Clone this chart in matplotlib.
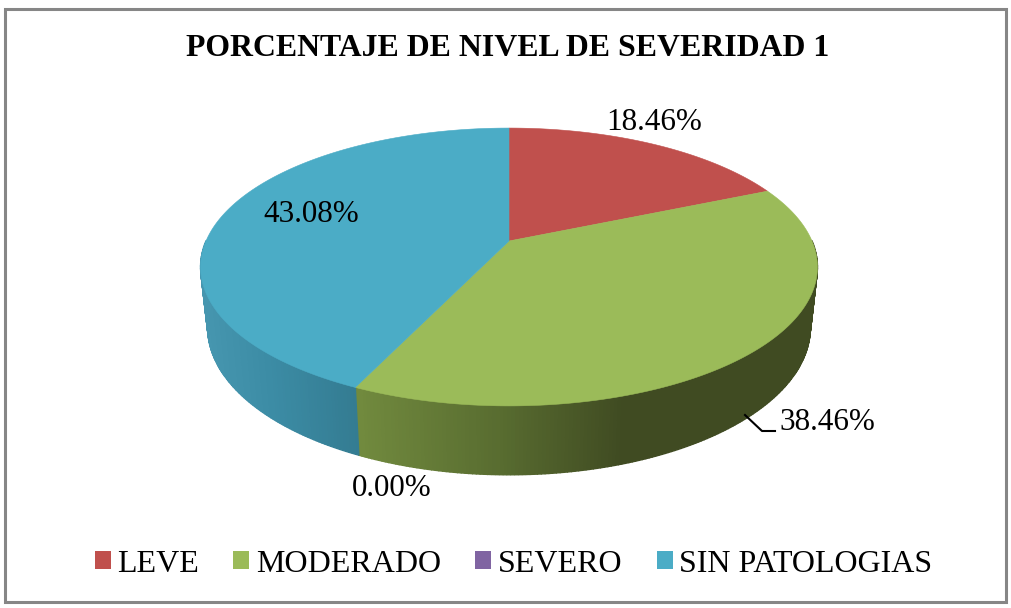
import numpy as np
import matplotlib
matplotlib.use('Agg')
import matplotlib.pyplot as plt
from matplotlib.patches import Patch, Rectangle

categorias = ['LEVE', 'MODERADO', 'SEVERO', 'SIN PATOLOGIAS']
porcentajes = [18.46, 38.46, 0.00, 43.08]
etiquetas = ['18.46%', '38.46%', '0.00%', '43.08%']
colores = ['#C0504D', '#9BBB59', '#8064A2', '#4BACC6']
titulo = 'PORCENTAJE DE NIVEL DE SEVERIDAD 1'

# sombreado del borde lateral, segun la posicion en x
sombra_x = {
    'MODERADO': [360, 500, 620],
    'SIN PATOLOGIAS': [205, 270, 355],
}
sombra_rgb = {
    'MODERADO': [(113, 138, 62), (88, 108, 48), (64, 75, 34)],
    'SIN PATOLOGIAS': [(70, 150, 175), (60, 140, 165), (52, 124, 146)],
}

plt.rcParams['font.family'] = ['Liberation Serif', 'DejaVu Serif']

fig = plt.figure(figsize=(10.12, 6.08), dpi=100)
ax = fig.add_axes([0, 0, 1, 1])
ax.set_xlim(0, 1012)
ax.set_ylim(608, 0)
ax.axis('off')


# perspectiva: circulo unitario -> pantalla
def proyectar(ang, k, y0, a, c=0.187):
    u, v = np.sin(ang), np.cos(ang)
    d = 1 + c * v
    return 509 + k * u / d, (y0 + a * v) / d


def anillo_sup(ang):
    return proyectar(ang, 303, 241, -89)


def anillo_inf(ang):
    return proyectar(ang, 296, 300, -86)


ax.add_patch(Rectangle((5.5, 8.5), 1001, 593.5, fc='white', ec='#868686', lw=2.2))

bordes = np.cumsum([0] + porcentajes) / 100 * 2 * np.pi

# paredes laterales, solo la mitad delantera se ve
for i, cat in enumerate(categorias):
    if porcentajes[i] == 0:
        continue
    ang = np.linspace(bordes[i], bordes[i + 1], int(porcentajes[i] * 6) + 2)
    for a0, a1 in zip(ang[:-1], ang[1:]):
        if np.cos(a0) > 0 and np.cos(a1) > 0:
            continue
        x0, y0 = anillo_sup(a0)
        x1, y1 = anillo_sup(a1)
        x2, y2 = anillo_inf(a1)
        x3, y3 = anillo_inf(a0)
        if cat in sombra_x:
            xm = (x0 + x1 + x2 + x3) / 4
            rgb = [np.interp(xm, sombra_x[cat], [c[j] for c in sombra_rgb[cat]]) / 255 for j in range(3)]
        else:
            rgb = colores[i]
        ax.fill([x0, x1, x2, x3], [y0, y1, y2, y3], color=rgb, lw=1.0, zorder=2)

# cara superior
for i in range(len(categorias)):
    if porcentajes[i] == 0:
        continue
    ang = np.linspace(bordes[i], bordes[i + 1], 200)
    xs, ys = anillo_sup(ang)
    ax.fill(np.r_[509, xs], np.r_[241, ys], color=colores[i], lw=0.4, zorder=3)

# etiquetas
pos_etiquetas = [(654, 122), (827.5, 422), (392, 489), (311, 214)]
for txt, (x, y) in zip(etiquetas, pos_etiquetas):
    ax.text(x, y, txt, fontsize=22.4, ha='center', va='center', color='black', zorder=5)
ax.plot([745, 762, 775], [415, 431, 431], color='black', lw=1.5, zorder=4)

ax.text(507.5, 49, titulo, fontsize=22.9, fontweight='bold', ha='center', va='center', color='black')

handles = [Patch(facecolor=c, edgecolor='none') for c in colores]
ax.legend(handles, categorias, ncol=4, loc='center', bbox_to_anchor=(513.5, 564),
          bbox_transform=ax.transData, frameon=False, fontsize=23,
          handlelength=0.5, handleheight=0.5, handletextpad=0.2,
          columnspacing=1.08, borderpad=0, labelcolor='black')

plt.savefig('out.png', dpi=100)
